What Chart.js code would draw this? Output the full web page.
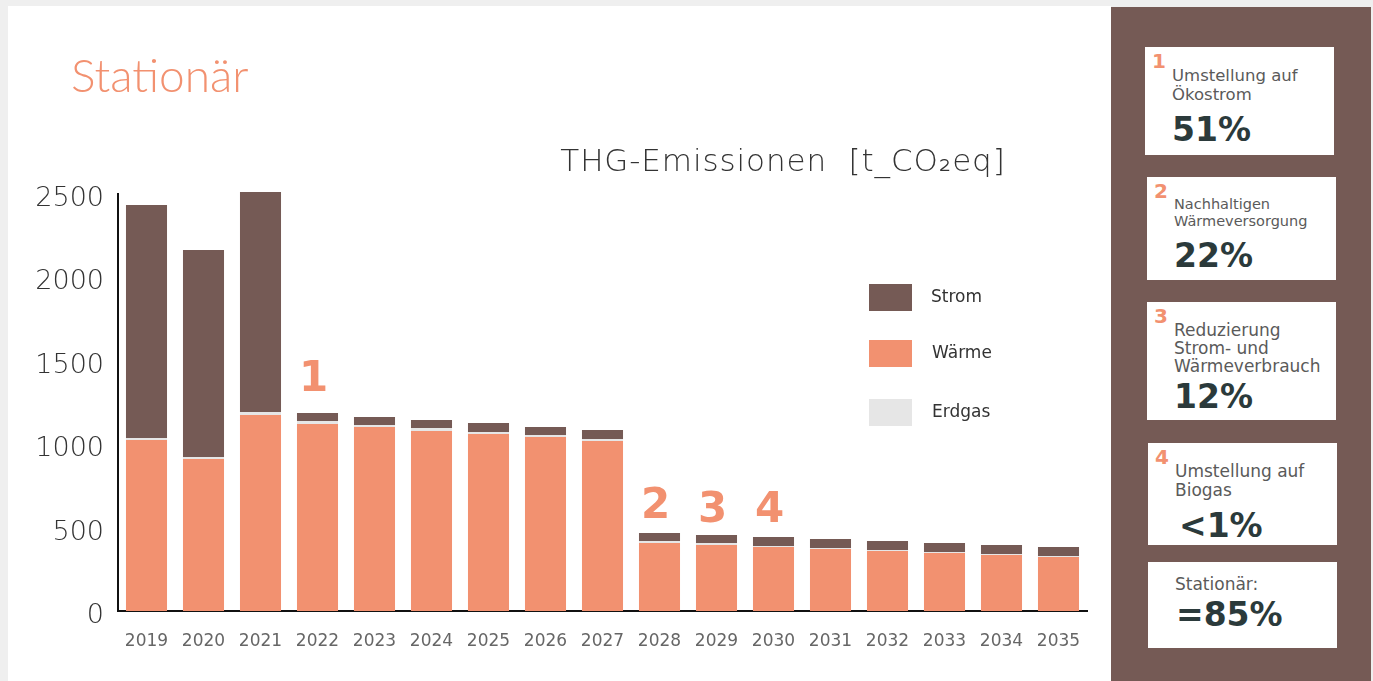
<!DOCTYPE html>
<html>
<head>
<meta charset="utf-8">
<script src="https://cdn.jsdelivr.net/npm/chart.js@4.4.1/dist/chart.umd.min.js"></script>
<style>
  html, body { margin: 0; padding: 0; background: #efefef; width: 1373px; height: 681px; overflow: hidden; font-family: "DejaVu Sans", sans-serif; }
  #main { position: absolute; left: 8px; top: 6px; width: 1103px; height: 675px; background: #fff; }
  #chartWrap { position: absolute; left: 0; top: 0; width: 1102px; height: 675px; }
  #heading { position: absolute; left: 63px; top: 41px; font-family: Lato, sans-serif; font-size: 46px; font-weight: 300; color: #f29170; }
  #side { position: absolute; left: 1111px; top: 7px; width: 260px; height: 674px; background: #755a55; }
  .card { position: absolute; background: #fff; color: #5a5a5a; }
  .card .num { position: absolute; left: 7px; top: 2px; font-weight: bold; font-size: 20px; color: #f29170; }
  .card .txt { position: absolute; left: 27px; line-height: 19px; font-size: 16.5px; }
  .card .pct { position: absolute; left: 27px; font-weight: bold; font-size: 33px; color: #2b3a3b; }
</style>
</head>
<body>
<div id="main">
  <div id="chartWrap"><canvas id="graph"></canvas></div>
  <div id="heading">Stationär</div>
</div>
<div id="side">
  <div class="card" style="left:34px;top:40px;width:189px;height:108px;">
    <div class="num">1</div>
    <div class="txt" style="top:19px;">Umstellung auf<br>Ökostrom</div>
    <div class="pct" style="top:63px;">51%</div>
  </div>
  <div class="card" style="left:36px;top:170px;width:189px;height:103px;">
    <div class="num">2</div>
    <div class="txt" style="top:19px;font-size:14.5px;line-height:17px;">Nachhaltigen<br>Wärmeversorgung</div>
    <div class="pct" style="top:59px;">22%</div>
  </div>
  <div class="card" style="left:36px;top:295px;width:189px;height:118px;">
    <div class="num">3</div>
    <div class="txt" style="top:19px;font-size:17px;line-height:18px;">Reduzierung<br>Strom- und<br>Wärmeverbrauch</div>
    <div class="pct" style="top:75px;">12%</div>
  </div>
  <div class="card" style="left:37px;top:436px;width:189px;height:102px;">
    <div class="num">4</div>
    <div class="txt" style="top:19px;font-size:17px;">Umstellung auf<br>Biogas</div>
    <div class="pct" style="top:63px;left:31px;">&lt;1%</div>
  </div>
  <div class="card" style="left:37px;top:555px;width:189px;height:86px;">
    <div class="txt" style="top:13px;font-size:17px;">Stationär:</div>
    <div class="pct" style="top:33px;left:28px;">=85%</div>
  </div>
</div>
<script>
const years = ['2019', '2020', '2021', '2022', '2023', '2024', '2025', '2026', '2027',
  '2028', '2029', '2030', '2031', '2032', '2033', '2034', '2035'];
const waerme = [1025, 911, 1175, 1121, 1103, 1079, 1061, 1043, 1019, 408, 396, 384, 372, 360, 348, 336, 324];
const erdgas = [12, 12, 18, 18, 12, 18, 12, 12, 12, 12, 12, 6, 6, 6, 6, 6, 6];
const strom = [1397, 1241, 1319, 48, 48, 48, 54, 48, 54, 48, 48, 54, 54, 54, 54, 54, 54];
const yTicks = [0, 500, 1000, 1500, 2000, 2500];
// which bar gets which measure number
const markers = [
  { index: 3, text: '1', gap: 22 },
  { index: 9, text: '2', gap: 15 },
  { index: 10, text: '3', gap: 13 },
  { index: 11, text: '4', gap: 15 },
];

const orange = '#f29170';
const brown = '#755a55';
const grey = '#e6e6e6';

const extras = {
  id: 'extras',
  afterDraw(chart) {
    const ctx = chart.ctx;
    ctx.save();
    // chart title
    ctx.fillStyle = '#333';
    ctx.font = '300 31px "DejaVu Sans"';
    ctx.letterSpacing = '0.9px';
    ctx.textAlign = 'center';
    ctx.textBaseline = 'middle';
    ctx.fillText('THG-Emissionen  [t_CO\u2082eq]', 775, 157);
    ctx.letterSpacing = '0px';

    // legend, top to bottom: Strom, Wärme, Erdgas
    const order = [2, 0, 1];
    const boxY = [278, 334, 393];
    ctx.font = '17px "DejaVu Sans"';
    ctx.textAlign = 'left';
    order.forEach((di, i) => {
      const ds = chart.data.datasets[di];
      ctx.fillStyle = ds.backgroundColor;
      ctx.fillRect(861, boxY[i], 43, 27);
      ctx.fillStyle = '#333';
      ctx.fillText(ds.label, 923 + (i > 0 ? 1 : 0), boxY[i] + 14);
    });

    // measure numbers above bars
    const top = chart.getDatasetMeta(2).data;
    ctx.fillStyle = orange;
    ctx.font = 'bold 42px "DejaVu Sans"';
    ctx.textAlign = 'center';
    ctx.textBaseline = 'alphabetic';
    markers.forEach(m => {
      const bar = top[m.index];
      ctx.fillText(m.text, bar.x - 4, bar.y - m.gap);
    });
    ctx.restore();
  }
};

new Chart(document.getElementById('graph'), {
  type: 'bar',
  data: {
    labels: years,
    datasets: [
      { label: 'Wärme', data: waerme, backgroundColor: orange, clip: false },
      { label: 'Erdgas', data: erdgas, backgroundColor: grey, clip: false },
      { label: 'Strom', data: strom, backgroundColor: brown, clip: false },
    ]
  },
  options: {
    responsive: true,
    maintainAspectRatio: false,
    animation: false,
    datasets: { bar: { barPercentage: 0.72, categoryPercentage: 1 } },
    layout: { padding: { left: 10, right: 23, top: 188, bottom: 0 } },
    plugins: { legend: { display: false }, title: { display: false }, tooltip: { enabled: false } },
    scales: {
      x: {
        stacked: true,
        grid: { display: false },
        border: { display: true, color: '#111', width: 2 },
        ticks: { color: '#666', padding: 12, font: { family: 'DejaVu Sans', size: 17 } },
        afterFit(scale) { scale.height = 70; }
      },
      y: {
        stacked: true,
        min: 0,
        max: 2500,
        grid: { display: false },
        border: { display: true, color: '#111', width: 2 },
        afterBuildTicks(scale) { scale.ticks = yTicks.map(v => ({ value: v })); },
        ticks: {
          color: '#333', padding: 6, labelOffset: 5,
          font: { family: 'DejaVu Sans', size: 27, weight: 200 },
          callback: v => String(v)
        },
        afterFit(scale) { scale.width = 100; }
      }
    }
  },
  plugins: [extras]
});
</script>
</body>
</html>
